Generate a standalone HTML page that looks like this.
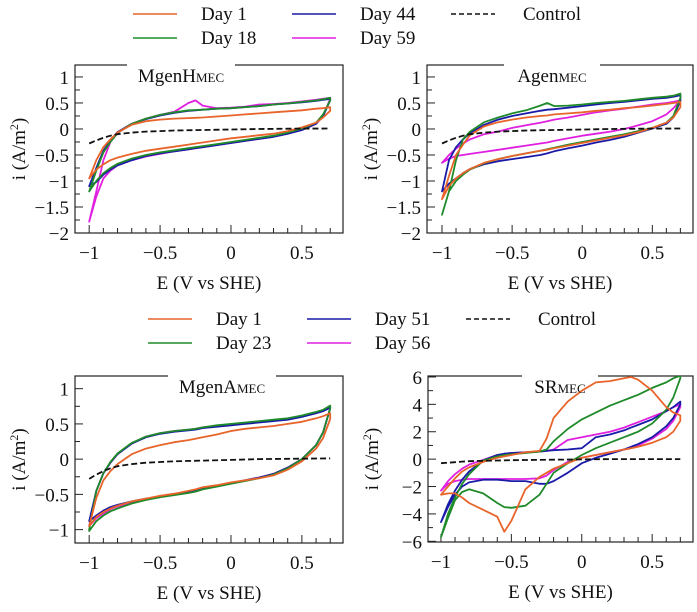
<!DOCTYPE html>
<html><head><meta charset="utf-8"><style>
html,body{margin:0;padding:0;background:#fff;}
svg, svg text, svg tspan{font-family:"Liberation Serif","Times New Roman","DejaVu Serif",serif;}
</style></head><body>
<svg id="fig" width="697" height="607" viewBox="0 0 697 607" xmlns="http://www.w3.org/2000/svg" font-family="Liberation Serif, Times New Roman, serif"></svg>
<script>
// ---------- Data ----------
const seriesColors = ['#e8642a','#1f8a2a','#1a1aa8','#e020e0'];
const gridA = [-1,-0.95,-0.9,-0.85,-0.8,-0.7,-0.6,-0.5,-0.4,-0.3,-0.25,-0.2,-0.1,0,0.1,0.2,0.3,0.4,0.5,0.6,0.65,0.7];
const gridSR = [-1,-0.95,-0.9,-0.85,-0.8,-0.7,-0.6,-0.55,-0.5,-0.4,-0.3,-0.25,-0.2,-0.1,0,0.1,0.2,0.3,0.35,0.4,0.5,0.6,0.65,0.7];
const controlE = [-1,-0.95,-0.9,-0.85,-0.8,-0.7,-0.6,-0.5,-0.4,-0.2,0,0.2,0.4,0.7];
const controlI = [-0.28,-0.22,-0.17,-0.13,-0.1,-0.07,-0.05,-0.04,-0.03,-0.02,-0.01,0,0.005,0.01];
const controlISR = [-0.3,-0.26,-0.22,-0.18,-0.15,-0.12,-0.1,-0.08,-0.06,-0.04,-0.02,0,0,0];

// MgenH
const mh_d1_up = [-0.95,-0.6,-0.35,-0.2,-0.07,0.08,0.15,0.18,0.2,0.21,0.215,0.22,0.24,0.26,0.28,0.3,0.32,0.34,0.36,0.39,0.4,0.42];
const mh_d1_lo = [-0.95,-0.78,-0.68,-0.6,-0.55,-0.48,-0.42,-0.38,-0.34,-0.3,-0.28,-0.26,-0.22,-0.18,-0.15,-0.12,-0.09,-0.04,0.03,0.12,0.22,0.35];
const mh_d18_up = [-1.2,-0.8,-0.45,-0.25,-0.08,0.1,0.2,0.27,0.32,0.36,0.365,0.37,0.39,0.4,0.42,0.44,0.47,0.49,0.52,0.55,0.57,0.6];
const mh_d18_lo = [-1.2,-1.0,-0.85,-0.75,-0.67,-0.57,-0.5,-0.45,-0.41,-0.37,-0.35,-0.33,-0.29,-0.25,-0.21,-0.17,-0.13,-0.07,0.01,0.12,0.28,0.55];
const mh_d44_up = [-1.1,-0.75,-0.42,-0.22,-0.06,0.1,0.19,0.26,0.31,0.35,0.36,0.37,0.39,0.4,0.42,0.44,0.47,0.49,0.51,0.54,0.56,0.58];
const mh_d44_lo = [-1.1,-1.02,-0.88,-0.78,-0.7,-0.6,-0.52,-0.47,-0.43,-0.39,-0.37,-0.35,-0.31,-0.27,-0.23,-0.19,-0.15,-0.09,-0.02,0.1,0.25,0.55];
const mh_d59_up = [-1.78,-1.2,-0.6,-0.25,-0.08,0.1,0.2,0.27,0.33,0.5,0.55,0.45,0.4,0.41,0.43,0.47,0.48,0.5,0.53,0.56,0.58,0.6];
const mh_d59_lo = [-1.78,-1.3,-0.95,-0.8,-0.7,-0.6,-0.53,-0.48,-0.43,-0.39,-0.37,-0.35,-0.31,-0.27,-0.23,-0.19,-0.15,-0.09,-0.02,0.1,0.25,0.58];

// Agen
const ag_d1_up = [-1.35,-0.9,-0.5,-0.3,-0.12,0.05,0.13,0.18,0.22,0.25,0.26,0.28,0.3,0.32,0.35,0.37,0.4,0.42,0.45,0.48,0.5,0.52];
const ag_d1_lo = [-1.35,-1.1,-0.95,-0.85,-0.77,-0.65,-0.58,-0.52,-0.47,-0.42,-0.4,-0.37,-0.32,-0.27,-0.22,-0.17,-0.12,-0.06,0.02,0.12,0.22,0.42];
const ag_d18_up = [-1.65,-1.2,-0.6,-0.2,-0.05,0.13,0.22,0.3,0.36,0.45,0.5,0.44,0.45,0.47,0.5,0.52,0.54,0.57,0.6,0.62,0.64,0.68];
const ag_d18_lo = [-1.65,-1.2,-1.0,-0.88,-0.78,-0.66,-0.58,-0.52,-0.47,-0.42,-0.39,-0.36,-0.3,-0.25,-0.2,-0.15,-0.1,-0.04,0.02,0.12,0.25,0.6];
const ag_d44_up = [-1.2,-0.6,-0.35,-0.2,-0.08,0.08,0.18,0.25,0.3,0.35,0.37,0.38,0.41,0.44,0.47,0.5,0.52,0.55,0.58,0.6,0.62,0.65];
const ag_d44_lo = [-1.2,-1.05,-0.95,-0.85,-0.77,-0.68,-0.62,-0.58,-0.54,-0.5,-0.47,-0.43,-0.37,-0.32,-0.26,-0.21,-0.15,-0.07,0.01,0.1,0.22,0.55];
const ag_d59_up = [-0.65,-0.5,-0.38,-0.28,-0.2,-0.1,-0.05,0.02,0.07,0.12,0.15,0.18,0.22,0.27,0.32,0.36,0.39,0.43,0.47,0.5,0.52,0.55];
const ag_d59_lo = [-0.65,-0.57,-0.52,-0.5,-0.48,-0.44,-0.4,-0.36,-0.32,-0.28,-0.26,-0.23,-0.18,-0.13,-0.09,-0.05,0.0,0.07,0.15,0.28,0.4,0.55];

// MgenA
const ma_d1_up = [-0.95,-0.55,-0.3,-0.17,-0.07,0.07,0.15,0.2,0.24,0.27,0.29,0.31,0.35,0.4,0.43,0.45,0.47,0.5,0.53,0.58,0.61,0.65];
const ma_d1_lo = [-0.95,-0.82,-0.75,-0.7,-0.66,-0.6,-0.56,-0.52,-0.49,-0.45,-0.43,-0.4,-0.37,-0.33,-0.3,-0.27,-0.23,-0.15,-0.03,0.15,0.3,0.57];
const ma_d23_up = [-1.0,-0.45,-0.2,-0.04,0.08,0.23,0.32,0.37,0.4,0.42,0.43,0.45,0.48,0.5,0.52,0.54,0.56,0.58,0.62,0.67,0.7,0.76];
const ma_d23_lo = [-1.02,-0.88,-0.8,-0.74,-0.7,-0.63,-0.58,-0.54,-0.51,-0.48,-0.46,-0.43,-0.39,-0.35,-0.31,-0.27,-0.22,-0.13,0.0,0.2,0.38,0.72];
const ma_d51_up = [-0.88,-0.45,-0.2,-0.05,0.07,0.22,0.31,0.36,0.39,0.41,0.42,0.44,0.46,0.48,0.5,0.52,0.54,0.56,0.6,0.65,0.68,0.73];
const ma_d51_lo = [-0.88,-0.8,-0.73,-0.68,-0.65,-0.6,-0.56,-0.53,-0.5,-0.47,-0.45,-0.42,-0.38,-0.34,-0.3,-0.26,-0.21,-0.12,0.0,0.2,0.38,0.72];
const ma_d56_up = [-0.95,-0.45,-0.2,-0.05,0.07,0.22,0.32,0.37,0.4,0.42,0.43,0.45,0.47,0.49,0.51,0.53,0.55,0.57,0.61,0.66,0.69,0.74];
const ma_d56_lo = [-0.95,-0.84,-0.77,-0.71,-0.67,-0.62,-0.57,-0.53,-0.5,-0.47,-0.45,-0.42,-0.38,-0.34,-0.3,-0.26,-0.21,-0.12,0.0,0.2,0.38,0.72];

// SR
const sr_d1_up = [-2.6,-2.0,-1.4,-0.9,-0.6,-0.2,0.1,0.2,0.3,0.5,0.6,1.5,3.0,4.2,5.0,5.6,5.7,5.9,6.0,5.8,5.0,3.8,3.4,3.2];
const sr_d1_lo = [-2.6,-2.5,-2.5,-2.8,-3.2,-3.7,-4.2,-5.3,-4.5,-2.2,-1.3,-1.0,-0.7,-0.3,0.1,0.3,0.5,0.7,0.8,0.9,1.2,1.6,2.0,2.8];
const sr_d23_up = [-5.7,-4.0,-2.8,-1.8,-1.1,-0.1,0.2,0.3,0.35,0.45,0.55,0.7,1.3,2.2,2.9,3.4,3.9,4.3,4.5,4.7,5.2,5.6,5.9,6.1];
const sr_d23_lo = [-5.7,-4.3,-3.0,-2.4,-2.2,-2.5,-3.2,-3.5,-3.55,-3.4,-2.6,-1.8,-1.0,-0.3,0.3,0.8,1.2,1.6,1.8,2.0,2.6,3.6,4.5,5.9];
const sr_d51_up = [-4.6,-3.3,-2.3,-1.5,-0.9,-0.1,0.3,0.4,0.45,0.5,0.55,0.6,0.65,0.7,0.8,1.6,1.8,2.1,2.3,2.5,2.9,3.5,3.8,4.2];
const sr_d51_lo = [-4.6,-3.5,-2.6,-2.0,-1.7,-1.5,-1.5,-1.55,-1.6,-1.6,-1.8,-1.8,-1.6,-1.0,-0.3,0.1,0.4,0.7,0.9,1.1,1.6,2.4,3.0,4.0];
const sr_d56_up = [-2.3,-1.6,-1.1,-0.7,-0.4,-0.05,0.3,0.4,0.45,0.5,0.55,0.6,0.7,1.4,1.6,1.8,2.0,2.3,2.5,2.7,3.1,3.5,3.8,4.0];
const sr_d56_lo = [-2.3,-1.8,-1.6,-1.5,-1.45,-1.45,-1.45,-1.45,-1.45,-1.45,-1.4,-1.2,-0.8,-0.2,0.1,0.3,0.5,0.7,0.8,1.0,1.5,2.2,2.8,3.8];

const xTicks = [-1,-0.5,0,0.5];
const yTicksSmall = [1,0.5,0,-0.5,-1,-1.5,-2];
const yTicksMA = [1,0.5,0,-0.5,-1];
const yTicksSR = [6,4,2,0,-2,-4,-6];
const legendTop = ['Day 1','Day 18','Day 44','Day 59','Control'];
const legendBottom = ['Day 1','Day 23','Day 51','Day 56','Control'];

// ---------- Drawing ----------
const NS = 'http://www.w3.org/2000/svg';
const svg = document.getElementById('fig');
const FONT = '"Liberation Serif","Times New Roman",serif';
function mk(tag, attrs, parent){
  const e = document.createElementNS(NS, tag);
  for (const k in attrs) e.setAttribute(k, attrs[k]);
  if (tag === 'text') e.style.fontFamily = FONT;
  (parent||svg).appendChild(e);
  return e;
}
function fmt(v){ return (v<0?'\u2212':'') + String(Math.abs(v)); }

function panel(cfg){
  const g = mk('g', {});
  
  
  const L=cfg.box[0], T=cfg.box[1], R=cfg.box[2], B=cfg.box[3];
  const sx = v => L + (v - cfg.xd[0])/(cfg.xd[1]-cfg.xd[0])*(R-L);
  const sy = v => B - (v - cfg.yd[0])/(cfg.yd[1]-cfg.yd[0])*(B-T);
  const fr = mk('rect', {x:L, y:T, width:R-L, height:B-T, fill:'none', stroke:'#222', 'stroke-width':1.2}, g);
  
  
  for (let k=-10;k<=7;k++){
    const v=k/10, x=sx(v), major=(k%5===0);
    mk('line',{x1:x,x2:x,y1:B,y2:B-(major?8:5),stroke:'#222','stroke-width':1},g);
  }
  xTicks.forEach(v=>{
    const t = mk('text',{x:sx(v), y:B+26, 'text-anchor':'middle','font-size':19, fill:'#111'}, g);
    t.textContent = fmt(v);
    
    
  });
  const step = cfg.yt[0]-cfg.yt[1];
  for (let v=cfg.yt[cfg.yt.length-1]; v<=cfg.yt[0]+1e-9; v+=step/2){
    const y=sy(v), major=Math.abs(Math.round(v/step)*step - v)<1e-6;
    mk('line',{x1:L,x2:L+(major?8:5),y1:y,y2:y,stroke:'#222','stroke-width':1},g);
  }
  cfg.yt.forEach(v=>{
    const t = mk('text',{x:L-6, y:sy(v)+7, 'text-anchor':'end','font-size':19, fill:'#111'}, g);
    t.textContent = fmt(v);
    
    
  });
  const cid = 'c'+cfg.name;
  const cp = mk('clipPath',{id:cid},g);
  mk('rect',{x:L,y:T,width:R-L,height:B-T},cp);
  const pg = mk('g',{'clip-path':'url(#'+cid+')'},g);
  for (let s=cfg.series.length-1; s>=0; s--){
    const up=cfg.series[s][0], lo=cfg.series[s][1];
    let d='';
    cfg.grid.forEach((e,i)=>{ d += (i?'L':'M') + sx(e).toFixed(1)+','+sy(up[i]).toFixed(1); });
    for (let i=cfg.grid.length-1;i>=0;i--) d += 'L'+sx(cfg.grid[i]).toFixed(1)+','+sy(lo[i]).toFixed(1);
    d+='Z';
    const p = mk('path',{d:d, fill:'none', stroke:seriesColors[s], 'stroke-width':1.8,'stroke-linejoin':'round'},pg);
    
    
  }
  let dc='';
  controlE.forEach((e,i)=>{ dc += (i?'L':'M')+sx(e).toFixed(1)+','+sy(cfg.ctrl[i]).toFixed(1); });
  const cl = mk('path',{d:dc, fill:'none', stroke:'#111','stroke-width':1.8,'stroke-dasharray':'6,3'},pg);
  
  
  const tw = cfg.tw;
  mk('rect',{x:cfg.tx-tw/2-8, y:T-2, width:tw+16, height:4, fill:'#fff'},g);
  const tt = mk('text',{x:cfg.tx, y:T+17, 'text-anchor':'middle','font-size':19, fill:'#111'},g);
  
  
  const a = mk('tspan',{},tt); a.textContent = cfg.title;
  const b = mk('tspan',{'font-size':13},tt); b.textContent = 'MEC';
  const xl = mk('text',{x:(L+R)/2, y:B+56, 'text-anchor':'middle','font-size':19, fill:'#111'},g);
  xl.textContent = 'E (V vs SHE)';
  
  
  const yc = (T+B)/2, yx = L-50;
  const yl = mk('text',{x:yx, y:yc, 'text-anchor':'middle','font-size':19, fill:'#111', transform:'rotate(-90 '+yx+' '+yc+')'},g);
  
  
  const y1 = mk('tspan',{},yl); y1.textContent='i (A/m';
  const y2 = mk('tspan',{'font-size':12, dy:-7},yl); y2.textContent='2';
  const y3 = mk('tspan',{dy:7},yl); y3.textContent=')';
}

function legend(labels, ox, oy, name){
  const g = mk('g',{});
  
  
  const cols = [[0,0],[0,1],[1,0],[1,1],[2,0]];
  const colColor = ['#e8642a','#1f8a2a','#1a1aa8','#e020e0','#111'];
  labels.forEach((lab,i)=>{
    const cx = ox + cols[i][0]*159, cy = oy + cols[i][1]*24;
    const ln = mk('line',{x1:cx, x2:cx+44, y1:cy, y2:cy, stroke:colColor[i], 'stroke-width':1.6, 'stroke-dasharray': i===4?'5,3':'none'},g);
    
    
    const t = mk('text',{x:cx+68 + (i===4?4:0), y:cy+6, 'font-size':19, fill:'#111'},g);
    t.textContent = lab;
    
    
  });
}

legend(legendTop, 133, 14, 'legend-top');
legend(legendBottom, 148, 319, 'legend-bottom');

panel({name:'panel-mgenh', box:[75,65,343,233], xd:[-1.1,0.79], yd:[-2,1.23], yt:yTicksSmall, grid:gridA,
  series:[[mh_d1_up,mh_d1_lo],[mh_d18_up,mh_d18_lo],[mh_d44_up,mh_d44_lo],[mh_d59_up,mh_d59_lo]],
  labels:legendTop, ctrl:controlI, title:'MgenH', tx:181, tw:92});
panel({name:'panel-agen', box:[427,65,693,233], xd:[-1.107,0.79], yd:[-2,1.23], yt:yTicksSmall, grid:gridA,
  series:[[ag_d1_up,ag_d1_lo],[ag_d18_up,ag_d18_lo],[ag_d44_up,ag_d44_lo],[ag_d59_up,ag_d59_lo]],
  labels:legendTop, ctrl:controlI, title:'Agen', tx:552, tw:80});
panel({name:'panel-mgena', box:[75,376,343,543], xd:[-1.1,0.79], yd:[-1.19,1.18], yt:yTicksMA, grid:gridA,
  series:[[ma_d1_up,ma_d1_lo],[ma_d23_up,ma_d23_lo],[ma_d51_up,ma_d51_lo],[ma_d56_up,ma_d56_lo]],
  labels:legendBottom, ctrl:controlI, title:'MgenA', tx:222, tw:92});
panel({name:'panel-sr', box:[428,376,693,542], xd:[-1.092,0.79], yd:[-6.05,6.07], yt:yTicksSR, grid:gridSR,
  series:[[sr_d1_up,sr_d1_lo],[sr_d23_up,sr_d23_lo],[sr_d51_up,sr_d51_lo],[sr_d56_up,sr_d56_lo]],
  labels:legendBottom, ctrl:controlISR, title:'SR', tx:560, tw:60});
</script>
</body></html>
